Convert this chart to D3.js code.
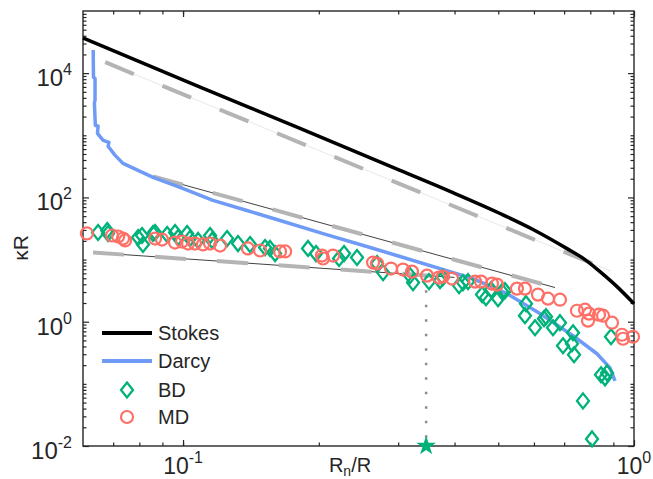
<!DOCTYPE html>
<html>
<head>
<meta charset="utf-8">
<script src="https://cdn.jsdelivr.net/npm/d3@7"></script>
<style>
  body { margin: 0; background: #fff; }
  svg { display: block; }
  text { font-family: 'Liberation Sans', Arial, Helvetica, sans-serif; fill: #262626; }
</style>
</head>
<body>
<div id="chart"></div>
<script>
// Stokes curve (R_n/R, kappa R)
const stokesX = [0.0600, 0.1091, 0.1817, 0.3028, 0.3908, 0.5045, 0.5971, 0.7103, 0.7787, 0.8406, 0.9169, 1.0];
const stokesY = [36700, 5940, 1297, 272, 125, 55.2, 30.5, 15.0, 10.0, 6.40, 3.67, 1.95];

// Darcy curve
const darcyX = [0.0632, 0.0633, 0.0638, 0.0638, 0.0636, 0.0639, 0.0648, 0.0646, 0.0665, 0.0685, 0.0682,
                0.0707, 0.0736, 0.0858, 0.0985, 0.1165, 0.1386, 0.1641, 0.2044, 0.2469, 0.3028, 0.3908,
                0.4396, 0.5229, 0.6186, 0.7325, 0.8279, 0.8846, 0.9076];
const darcyY = [23500, 8610, 8200, 3670, 3280, 1450, 1397, 1077, 830, 771, 665,
                475, 353, 210, 145, 89.5, 61.6, 42.6, 26.2, 17.5, 11.2, 6.40,
                4.94, 2.83, 1.35, 0.594, 0.305, 0.181, 0.112];

// power-law guide lines (end points)
const fitUpper = [[0.0672, 15000], [0.889, 6.5]];
const fitMiddle = [[0.0858, 218], [0.668, 3.55]];
const fitLower = [[0.0632, 13.0], [0.40, 5.16]];

// vertical drop line and star
const dropX = 0.346;
const dropY = [5.5, 0.01];

// BD (Brownian dynamics) points
const bdX = [0.0648, 0.0679, 0.0682, 0.0795, 0.0811, 0.0815, 0.0858, 0.0867, 0.0922, 0.0960, 0.0975, 0.1021,
             0.1036, 0.1080, 0.1148, 0.1160, 0.1252, 0.1324, 0.1408, 0.1520, 0.1559, 0.1600, 0.1893, 0.1972,
             0.2218, 0.2275, 0.2431, 0.2693, 0.2777, 0.3186, 0.3236, 0.3511, 0.3714, 0.3770, 0.4093, 0.4177,
             0.4285, 0.4603, 0.4697, 0.4819, 0.4995, 0.5098, 0.5176, 0.5761, 0.5731, 0.6032, 0.6316, 0.6381,
             0.6613, 0.6853, 0.6959, 0.7286, 0.7325, 0.7362, 0.8450, 0.8625, 0.8713, 0.8892, 0.7707, 0.8071];
const bdY = [27.3, 29.4, 26.3, 22.6, 24.4, 17.5, 26.3, 27.3, 25.3, 27.3, 22.6, 26.3,
             21.8, 20.3, 24.4, 20.3, 21.8, 18.1, 17.5, 15.6, 15.1, 12.5, 15.1, 12.5,
             10.4, 12.5, 10.8, 8.62, 6.17, 5.52, 4.26, 4.42, 4.59, 5.13, 3.81, 4.26,
             4.42, 2.73, 2.44, 3.28, 2.35, 3.05, 3.16, 1.95, 1.25, 0.800, 1.118, 1.204,
             0.800, 0.964, 0.410, 0.442, 0.665, 0.294, 0.140, 0.125, 0.150, 0.573, 0.0532, 0.0130];

// MD (molecular dynamics) points
const mdX = [0.0612, 0.0696, 0.0718, 0.0736, 0.0744, 0.0867, 0.0898, 0.0960, 0.0995, 0.1026, 0.1063, 0.1107,
             0.1148, 0.1208, 0.1393, 0.1482, 0.1641, 0.1684, 0.2033, 0.2044, 0.2151, 0.2638, 0.2693, 0.2892,
             0.3074, 0.3219, 0.3475, 0.3694, 0.3770, 0.3949, 0.4442, 0.4580, 0.4843, 0.4969, 0.5501, 0.5731,
             0.6124, 0.6445, 0.6853, 0.7472, 0.7787, 0.7947, 0.7907, 0.8364, 0.8538, 0.8937, 0.9405, 0.9454, 0.9949];
const mdY = [26.3, 24.4, 23.5, 21.8, 20.3, 21.8, 21.0, 18.8, 19.5, 18.1, 18.1, 17.5,
             18.1, 16.8, 15.1, 14.0, 13.5, 13.5, 11.6, 10.4, 11.6, 8.95, 8.62, 7.16,
             6.90, 6.40, 5.52, 5.13, 5.32, 4.94, 4.42, 4.42, 4.10, 3.95, 3.41, 3.41,
             2.73, 2.35, 2.26, 1.50, 1.56, 1.35, 1.04, 1.30, 1.25, 0.964, 0.617, 0.532, 0.573];

// axis tick labels (exponents)
const xLabelExp = [-1, 0];
const yLabelExp = [-2, 0, 2, 4];
const legendNames = ['Stokes', 'Darcy', 'BD', 'MD'];

const W = 653, H = 479;
const plot = { left: 83, right: 634, top: 11, bottom: 446 };
const colors = {
  axis: '#262626',
  stokes: '#000000',
  darcy: '#6f9bf7',
  guide: '#b4b4b4',
  bd: '#00b27a',
  md: '#ff6f66',
  drop: '#8c8c8c'
};

const svg = d3.select('#chart').append('svg')
  .attr('width', W).attr('height', H);

const x = d3.scaleLog().domain([0.06, 1]).range([plot.left, plot.right]);
const y = d3.scaleLog().domain([1e-2, 1e5]).range([plot.bottom, plot.top]);

const line = d3.line().x(d => x(d[0])).y(d => y(d[1]));
const smooth = d3.line().x(d => x(d[0])).y(d => y(d[1])).curve(d3.curveMonotoneX);
const zip = (a, b) => a.map((v, i) => [v, b[i]]);

// ticks (inward, all four sides)
const xMinor = x.ticks().filter(v => v > 0.06 && v < 1);
const yMinor = y.ticks().filter(v => v > 1e-2 && v < 1e5 && !yLabelExp.includes(Math.round(Math.log10(v) * 1000) / 1000));
const xMajor = xLabelExp.map(e => Math.pow(10, e));
const yMajor = yLabelExp.map(e => Math.pow(10, e));

function axisGroup(axisFn, scale, values, size, transform) {
  const g = svg.append('g')
    .attr('transform', transform)
    .call(axisFn(scale).tickValues(values).tickSizeInner(-size).tickSizeOuter(0).tickFormat(''));
  g.select('.domain').remove();
  g.selectAll('line').attr('stroke', colors.axis).attr('stroke-width', 1.2);
}
axisGroup(d3.axisBottom, x, xMinor, 3.5, `translate(0,${plot.bottom})`);
axisGroup(d3.axisBottom, x, xMajor, 6, `translate(0,${plot.bottom})`);
axisGroup(d3.axisTop, x, xMinor, 3.5, `translate(0,${plot.top})`);
axisGroup(d3.axisTop, x, xMajor, 6, `translate(0,${plot.top})`);
axisGroup(d3.axisLeft, y, yMinor, 3.5, `translate(${plot.left},0)`);
axisGroup(d3.axisLeft, y, yMajor, 6, `translate(${plot.left},0)`);
axisGroup(d3.axisRight, y, yMinor, 3.5, `translate(${plot.right},0)`);
axisGroup(d3.axisRight, y, yMajor, 6, `translate(${plot.right},0)`);

// box
svg.append('rect')
  .attr('x', plot.left).attr('y', plot.top)
  .attr('width', plot.right - plot.left).attr('height', plot.bottom - plot.top)
  .attr('fill', 'none').attr('stroke', colors.axis).attr('stroke-width', 1.4);

// tick labels with superscripts
xLabelExp.forEach(e => {
  const t = svg.append('text')
    .attr('x', x(Math.pow(10, e)))
    .attr('y', 474)
    .attr('text-anchor', 'middle')
    .style('font-size', '23px');
  t.append('tspan').text('10');
  t.append('tspan').attr('dy', -11).style('font-size', '16px').text(e < 0 ? '-' + (-e) : e);
});
yLabelExp.forEach(e => {
  const t = svg.append('text')
    .attr('x', 72)
    .attr('y', y(Math.pow(10, e)) + 13)
    .attr('text-anchor', 'end')
    .style('font-size', '24px');
  t.append('tspan').text('10');
  t.append('tspan').attr('dy', -11).style('font-size', '16px').text(e < 0 ? '-' + (-e) : e);
});

// axis labels
const xl = svg.append('text')
  .attr('x', 350).attr('y', 472)
  .attr('text-anchor', 'middle')
  .style('font-size', '20px');
xl.append('tspan').text('R');
xl.append('tspan').attr('dy', 4).style('font-size', '14px').text('n');
xl.append('tspan').attr('dy', -4).text('/R');

svg.append('text')
  .attr('transform', 'translate(28,248) rotate(-90)')
  .attr('text-anchor', 'middle')
  .style('font-size', '21px')
  .text('κR');

// guide lines: thin line under thick dashes
[fitUpper, fitMiddle, fitLower].forEach((f, i) => {
  svg.append('path')
    .attr('d', line(f))
    .attr('fill', 'none')
    .attr('stroke', i === 0 ? '#e2e2e2' : '#111')
    .attr('stroke-width', 0.8);
  svg.append('path')
    .attr('d', line(f))
    .attr('fill', 'none')
    .attr('stroke', colors.guide)
    .attr('stroke-width', 4)
    .attr('stroke-dasharray', '31,31');
});

// Stokes and Darcy
svg.append('path')
  .attr('d', smooth(zip(stokesX, stokesY)))
  .attr('fill', 'none')
  .attr('stroke', colors.stokes)
  .attr('stroke-width', 3.5)
  .attr('stroke-linejoin', 'round');

svg.append('path')
  .attr('d', line(zip(darcyX, darcyY)))
  .attr('fill', 'none')
  .attr('stroke', colors.darcy)
  .attr('stroke-width', 3.5)
  .attr('stroke-linejoin', 'round');

// dotted drop line
svg.append('path')
  .attr('d', line(dropY.map(v => [dropX, v])))
  .attr('fill', 'none')
  .attr('stroke', colors.drop)
  .attr('stroke-width', 2.5)
  .attr('stroke-dasharray', '2.5,12');

// markers
const diamond = 'M0,-7.5L6,0L0,7.5L-6,0Z';
svg.append('g').selectAll('path')
  .data(zip(bdX, bdY))
  .join('path')
  .attr('d', diamond)
  .attr('transform', d => `translate(${x(d[0])},${y(d[1])})`)
  .attr('fill', 'none')
  .attr('stroke', colors.bd)
  .attr('stroke-width', 2.3);

svg.append('g').selectAll('circle')
  .data(zip(mdX, mdY))
  .join('circle')
  .attr('cx', d => x(d[0]))
  .attr('cy', d => y(d[1]))
  .attr('r', 6)
  .attr('fill', 'none')
  .attr('stroke', colors.md)
  .attr('stroke-width', 2.2);

// star at the crossover
svg.append('path')
  .attr('d', d3.symbol(d3.symbolStar, 120)())
  .attr('transform', `translate(${x(dropX)},${y(dropY[1])})`)
  .attr('fill', colors.bd);

// legend
const lg = svg.append('g');
const rows = [333, 361, 390, 417];
lg.append('line').attr('x1', 102).attr('x2', 152).attr('y1', rows[0]).attr('y2', rows[0])
  .attr('stroke', colors.stokes).attr('stroke-width', 4);
lg.append('line').attr('x1', 102).attr('x2', 152).attr('y1', rows[1]).attr('y2', rows[1])
  .attr('stroke', colors.darcy).attr('stroke-width', 4);
lg.append('path').attr('d', diamond).attr('transform', `translate(127,${rows[2]})`)
  .attr('fill', 'none').attr('stroke', colors.bd).attr('stroke-width', 2.3);
lg.append('circle').attr('cx', 127).attr('cy', rows[3]).attr('r', 6)
  .attr('fill', 'none').attr('stroke', colors.md).attr('stroke-width', 2.2);
legendNames.forEach((n, i) => {
  lg.append('text')
    .attr('x', 158).attr('y', rows[i] + 7)
    .style('font-size', '20px')
    .text(n);
});
</script>
</body>
</html>
